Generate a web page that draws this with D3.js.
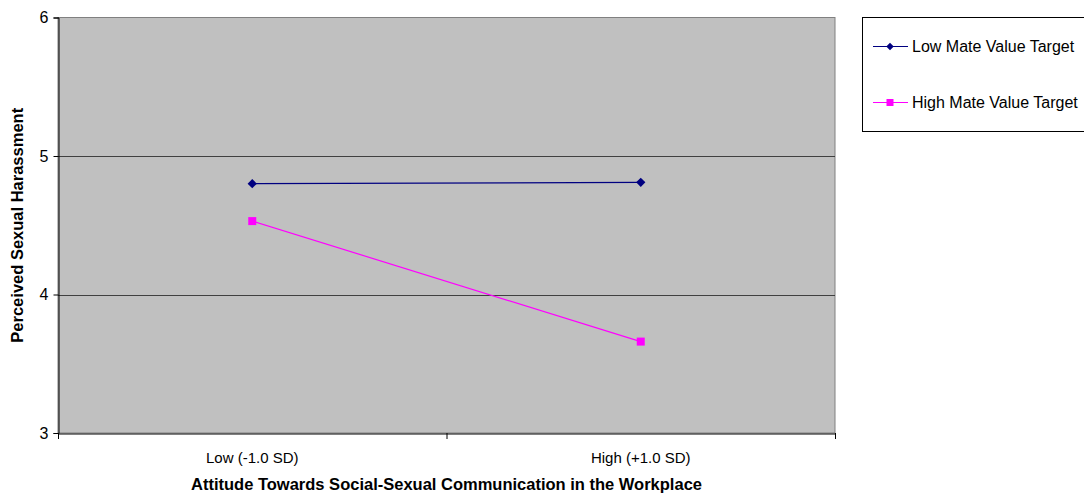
<!DOCTYPE html>
<html><head><meta charset="utf-8">
<script src="https://cdn.jsdelivr.net/npm/d3@7"></script>
<style>body{margin:0;background:#fff}svg{display:block;font-family:"Liberation Sans",Arial,sans-serif}</style>
</head><body><svg id="c" width="1084" height="494"></svg>
<script>
const categories = ["Low (-1.0 SD)", "High (+1.0 SD)"];
const seriesNames = ["Low Mate Value Target", "High Mate Value Target"];
const lowMate = [4.80, 4.81];
const highMate = [4.53, 3.66];
const yTicks = [3, 4, 5, 6];
const colors = ["#000080", "#ff00ff"];
const series = [lowMate, highMate];

const svg = d3.select("#c");
const L = 58, R = 835, T = 17.5, B = 433;
const x = d3.scaleBand().domain(categories).range([L, R]);
const y = d3.scaleLinear().domain([3, 6]).range([B, T]);

svg.append("rect").attr("x", L).attr("y", T).attr("width", R - L).attr("height", B - T)
  .attr("fill", "#c0c0c0").attr("stroke", "#808080").attr("stroke-width", 1);

svg.append("g").selectAll("line").data(yTicks.filter(d => d > 3 && d < 6)).join("line")
  .attr("x1", L).attr("x2", R).attr("y1", d => Math.round(y(d)) + 0.5).attr("y2", d => Math.round(y(d)) + 0.5)
  .attr("stroke", "#404040").attr("stroke-width", 1.2);

const yAxis = svg.append("g").attr("transform", `translate(${L + 0.5},0)`)
  .call(d3.axisLeft(y).tickValues(yTicks).tickSize(5).tickPadding(5).tickFormat(d3.format("d")));
yAxis.select(".domain").attr("stroke", "#000");
yAxis.selectAll(".tick line").attr("stroke", "#000");
yAxis.selectAll("text").attr("font-size", 16).attr("fill", "#000").attr("font-family", "Liberation Sans, Arial");

const xAxis = svg.append("g").attr("transform", `translate(0,${B + 0.5})`)
  .call(d3.axisBottom(x).tickSize(0).tickPadding(19));
xAxis.select(".domain").attr("stroke", "#000");
xAxis.selectAll("text").attr("font-size", 15).attr("fill", "#000").attr("font-family", "Liberation Sans, Arial");
const bounds = [L, ...categories.map(c => x(c) + x.bandwidth())];
svg.append("g").selectAll("line").data(bounds).join("line")
  .attr("x1", d => d + 0.5).attr("x2", d => d + 0.5).attr("y1", B).attr("y2", B + 6)
  .attr("stroke", "#000");

const line = d3.line().x((d, i) => x(categories[i]) + x.bandwidth() / 2).y(d => y(d));
series.forEach((s, k) => {
  svg.append("path").datum(s).attr("d", line).attr("fill", "none")
    .attr("stroke", colors[k]).attr("stroke-width", 1.2);
  const g = svg.append("g");
  s.forEach((v, i) => {
    const cx = x(categories[i]) + x.bandwidth() / 2, cy = y(v);
    if (k === 0) {
      g.append("path").attr("d", d3.symbol(d3.symbolDiamond2, 55)()).attr("transform", `translate(${cx},${cy})`)
        .attr("fill", colors[k]);
    } else {
      g.append("rect").attr("x", cx - 4).attr("y", cy - 4).attr("width", 8).attr("height", 8).attr("fill", colors[k]);
    }
  });
});

svg.append("text").attr("transform", `translate(23,${(T + B) / 2}) rotate(-90)`)
  .attr("text-anchor", "middle").attr("font-size", 16.5).attr("font-weight", "bold").text("Perceived Sexual Harassment");
svg.append("text").attr("x", (L + R) / 2).attr("y", 490)
  .attr("text-anchor", "middle").attr("font-size", 16.5).attr("font-weight", "bold")
  .text("Attitude Towards Social-Sexual Communication in the Workplace");

svg.append("rect").attr("x", 862.5).attr("y", 17.5).attr("width", 230).attr("height", 114)
  .attr("fill", "#fff").attr("stroke", "#000");
const ly = [46.5, 102.5];
seriesNames.forEach((n, k) => {
  svg.append("line").attr("x1", 873).attr("x2", 908).attr("y1", ly[k]).attr("y2", ly[k])
    .attr("stroke", colors[k]).attr("stroke-width", 1.2);
  if (k === 0) {
    svg.append("path").attr("d", d3.symbol(d3.symbolDiamond2, 36)()).attr("transform", `translate(890,${ly[k]})`).attr("fill", colors[k]);
  } else {
    svg.append("rect").attr("x", 886.5).attr("y", ly[k] - 3.5).attr("width", 7).attr("height", 7).attr("fill", colors[k]);
  }
  svg.append("text").attr("x", 912).attr("y", ly[k] + 5.5).attr("font-size", 16).text(n);
});
</script></body></html>
